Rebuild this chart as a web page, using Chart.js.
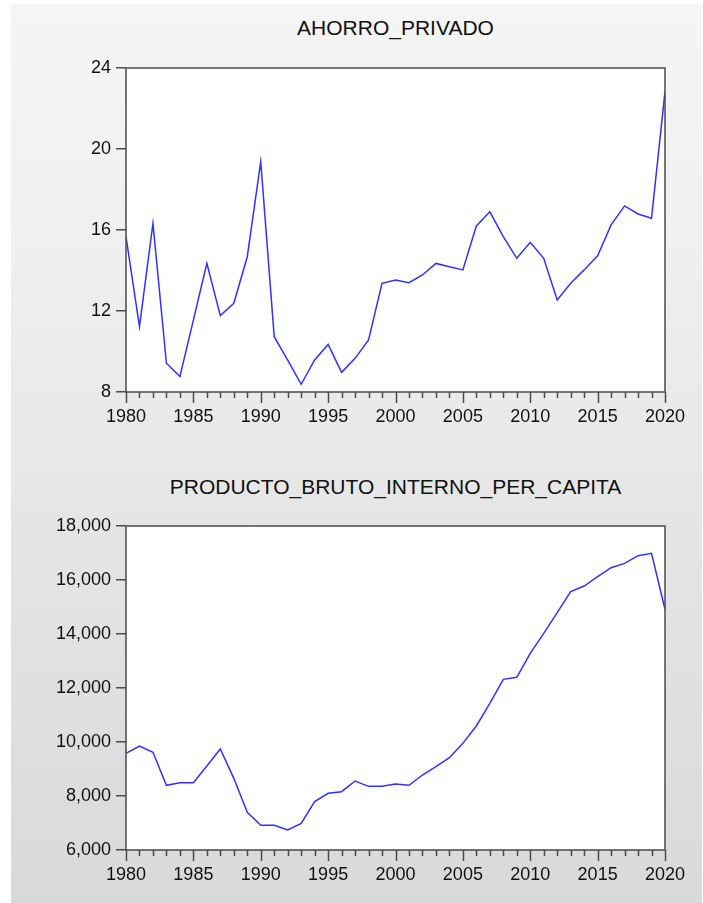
<!DOCTYPE html>
<html>
<head>
<meta charset="utf-8">
<script src="https://cdn.jsdelivr.net/npm/chart.js@4.4.1/dist/chart.umd.min.js"></script>
<style>
  html, body { margin: 0; padding: 0; background: #ffffff; }
  #page {
    position: relative;
    width: 703px;
    height: 903px;
    overflow: hidden;
  }
  #panel {
    position: absolute;
    left: 11px; top: 4px; width: 691px; height: 899px;
    background: linear-gradient(to bottom, #f5f5f5 0%, #f0f0f0 25%, #e6e6e6 55%, #d9d9d9 100%);
  }
  canvas { position: absolute; left: 0; }
  .title {
    position: absolute;
    left: 126px; width: 539px;
    text-align: center;
    color: #111;
    white-space: nowrap;
    font: 21px "Liberation Sans", Arial, sans-serif;
  }
  #title1 { top: 16px; }
  #title2 { top: 475px; }
</style>
</head>
<body>
<div id="page">
  <div id="panel"></div>
  <div class="title" id="title1">AHORRO_PRIVADO</div>
  <div class="title" id="title2">PRODUCTO_BRUTO_INTERNO_PER_CAPITA</div>
  <canvas id="chartAhorro" width="703" height="450" style="top:0"></canvas>
  <canvas id="chartPbi" width="703" height="453" style="top:450px"></canvas>
</div>
<script>
const years = [1980, 1981, 1982, 1983, 1984, 1985, 1986, 1987, 1988, 1989,
  1990, 1991, 1992, 1993, 1994, 1995, 1996, 1997, 1998, 1999,
  2000, 2001, 2002, 2003, 2004, 2005, 2006, 2007, 2008, 2009,
  2010, 2011, 2012, 2013, 2014, 2015, 2016, 2017, 2018, 2019, 2020];

const ahorroPrivado = [15.67, 11.23, 16.33, 9.42, 8.76, 11.55, 14.35, 11.77, 12.38, 14.68,
  19.37, 10.73, 9.58, 8.38, 9.58, 10.35, 8.97, 9.66, 10.57, 13.37,
  13.53, 13.40, 13.78, 14.35, 14.19, 14.03, 16.20, 16.90, 15.67, 14.60,
  15.39, 14.60, 12.54, 13.37, 14.03, 14.73, 16.25, 17.19, 16.79, 16.58, 22.83];

const pbiPerCapita = [9580, 9852, 9617, 8395, 8494, 8494, 9111, 9741, 8654, 7395,
  6914, 6914, 6741, 6987, 7790, 8099, 8160, 8556, 8358, 8358,
  8444, 8395, 8778, 9086, 9420, 9950, 10593, 11432, 12321, 12395,
  13284, 14025, 14790, 15568, 15778, 16123, 16457, 16617, 16901, 16988, 14914];

const ahorroTicks = [8, 12, 16, 20, 24];
const pbiTicks = [6000, 8000, 10000, 12000, 14000, 16000, 18000];

const axisColor = "#4a4a4a";
const lineColor = "#3232ff";
const tickFont = { family: "'Liberation Sans', Arial, sans-serif", size: 18 };

// white plot area, frame and the yearly x ticks (long every 5 years)
const framePlugin = {
  id: "frame",
  beforeDraw(chart) {
    const a = chart.chartArea;
    const ctx = chart.ctx;
    ctx.save();
    ctx.fillStyle = "#ffffff";
    ctx.fillRect(a.left, a.top, a.right - a.left, a.bottom - a.top);
    ctx.restore();
  },
  afterDraw(chart) {
    const a = chart.chartArea;
    const ctx = chart.ctx;
    const xs = chart.scales.x;
    ctx.save();
    ctx.strokeStyle = axisColor;
    ctx.lineWidth = 1.5;
    ctx.strokeRect(a.left, a.top, a.right - a.left, a.bottom - a.top);
    years.forEach((yr) => {
      const x = Math.round(xs.getPixelForValue(yr)) + 0.5;
      const len = yr % 5 === 0 ? 11 : 6;
      ctx.beginPath();
      ctx.moveTo(x, a.bottom);
      ctx.lineTo(x, a.bottom + len);
      ctx.stroke();
    });
    ctx.restore();
  }
};

function makeChart(canvasId, values, yTicks, padTop, padBottom, fmt) {
  const element = document.getElementById(canvasId);
  return new Chart(element, {
    type: "line",
    data: {
      datasets: [{
        data: years.map((yr, i) => ({ x: yr, y: values[i] })),
        borderColor: lineColor,
        borderWidth: 1.5,
        pointRadius: 0,
        tension: 0,
        fill: false
      }]
    },
    options: {
      responsive: false,
      animation: false,
      layout: { padding: { top: padTop, right: 38, bottom: padBottom, left: 0 } },
      plugins: {
        legend: { display: false },
        tooltip: { enabled: false }
      },
      scales: {
        x: {
          type: "linear",
          min: 1980,
          max: 2020,
          afterFit(scale) { scale.height = 40; },
          grid: { display: false, drawTicks: false },
          border: { display: false },
          ticks: {
            stepSize: 5,
            padding: 14,
            maxRotation: 0,
            color: "#111",
            font: tickFont,
            callback(value) { return String(value); }
          }
        },
        y: {
          min: yTicks[0],
          max: yTicks[yTicks.length - 1],
          afterFit(scale) { scale.width = 126; },
          afterBuildTicks(scale) { scale.ticks = yTicks.map((v) => ({ value: v })); },
          grid: {
            drawOnChartArea: false,
            drawTicks: true,
            tickLength: 10,
            color: axisColor,
            lineWidth: 1.5
          },
          border: { display: false },
          ticks: {
            padding: 5,
            color: "#111",
            font: tickFont,
            callback: fmt
          }
        }
      }
    },
    plugins: [framePlugin]
  });
}

makeChart("chartAhorro", ahorroPrivado, ahorroTicks, 68, 450 - 392 - 40, (v) => String(v));
makeChart("chartPbi", pbiPerCapita, pbiTicks, 76, 453 - 400 - 40, (v) => Number(v).toLocaleString("en-US"));
</script>
</body>
</html>
